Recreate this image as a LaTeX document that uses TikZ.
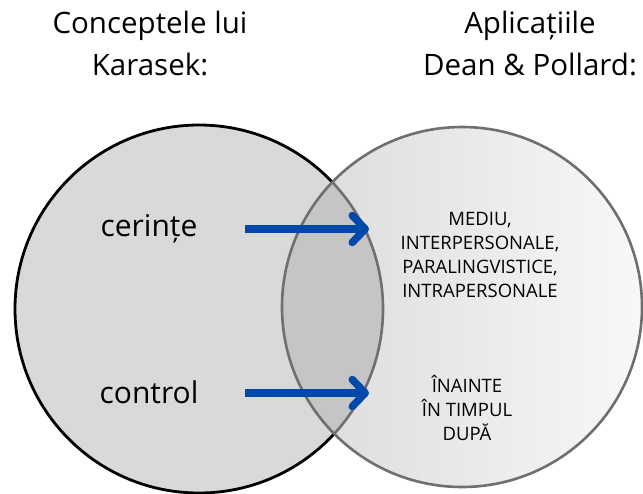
\documentclass[tikz,border=0pt]{standalone}
\usepackage{fontspec}
\setmainfont{Open Sans}
\usetikzlibrary{arrows.meta,positioning}
\definecolor{vnblue}{HTML}{0048AA}
\definecolor{vnleft}{HTML}{D9D9D9}
\definecolor{vnright}{HTML}{DADADA}
\definecolor{vnwhite}{HTML}{F8F8F8}
\definecolor{vnlens}{HTML}{C5C5C5}
\definecolor{vnedge}{HTML}{6F6F6F}

\begin{document}
\begin{tikzpicture}[x=1pt,y=-1pt,
 titletext/.style={align=center,font=\fontsize{29.5}{42}\selectfont,anchor=base},
 conceptlabel/.style={font=\fontsize{30}{34}\selectfont,anchor=base},
 applist/.style={align=center,font=\fontsize{18.5}{24}\selectfont,anchor=base},
 linkarrow/.style={-{Straight Barb[length=13pt,width=27pt,round]},line width=7.5pt,draw=vnblue}
]
\useasboundingbox (0,0) rectangle (643,493);
\coordinate (karasek) at (199,309);
\coordinate (dean) at (462,307);
\fill[vnleft] (karasek) circle[radius=184pt];
\draw[line width=2.8pt] (karasek) circle[radius=184pt];
\shade[left color=vnright,right color=vnwhite] (dean) circle[radius=180pt];
\begin{scope}
  \clip (dean) circle[radius=180pt];
  \fill[vnlens] (karasek) circle[radius=184pt];
  \draw[vnedge,line width=2.6pt] (karasek) circle[radius=184pt];
\end{scope}
\draw[vnedge,line width=2.6pt] (dean) circle[radius=180pt];
\node[titletext] (title1) at (150,75) {Conceptele lui\\Karasek:};
\node[titletext] (title2) at (530,75) {Aplicațiile\\Dean \& Pollard:};
\node[conceptlabel] (cerinte) at (149,236) {cerințe};
\node[conceptlabel] (control) at (149,403) {control};
\node[applist] (mediu) at (480,297) {MEDIU,\\INTERPERSONALE,\\PARALINGVISTICE,\\INTRAPERSONALE};
\node[applist] (timp) at (467,440) {ÎNAINTE\\ÎN TIMPUL\\DUPĂ};
\coordinate (cerinte-tail) at (245,229);
\coordinate (cerinte-tip) at (369,229);
\coordinate (control-tail) at (245,393);
\coordinate (control-tip) at (369,393);
\draw[linkarrow] (cerinte-tail)--(cerinte-tip);
\draw[linkarrow] (control-tail)--(control-tip);
\end{tikzpicture}
\end{document}
